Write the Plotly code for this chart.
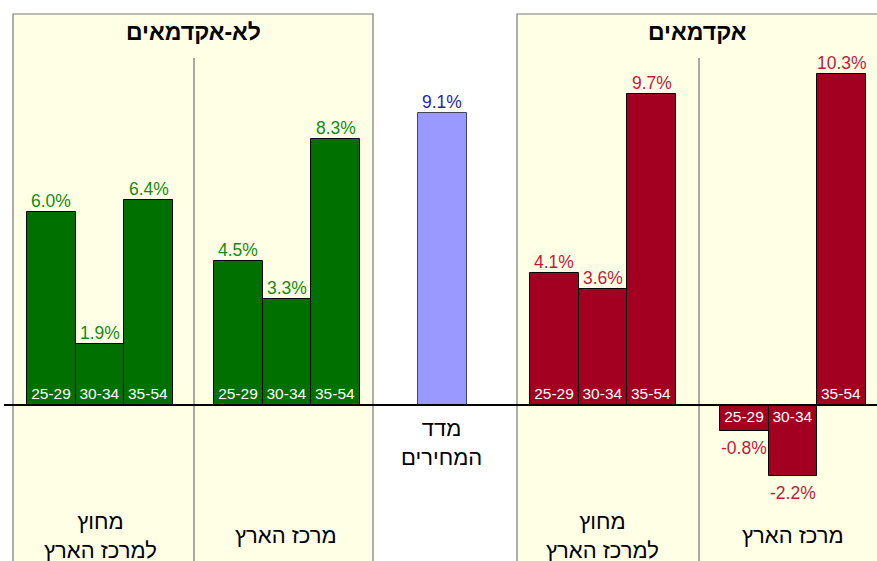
import plotly.graph_objects as go

# ---- data ----
age_groups = ["25-29", "30-34", "35-54"]
nonacad_periphery = [6.0, 1.9, 6.4]
nonacad_center = [4.5, 3.3, 8.3]
price_index = [9.1]
acad_periphery = [4.1, 3.6, 9.7]
acad_center = [-0.8, -2.2, 10.3]

panel_titles = ["לא-אקדמאים", "אקדמאים"]
region_labels = ["מחוץ<br>למרכז הארץ", "מרכז הארץ"]
price_label = "מדד<br>המחירים"

# ---- layout constants (pixel-like x units) ----
W, H = 877, 561
BAR_W = 48.7
ZERO_PX = 405
PX_PER_UNIT = 32.1
GREEN, RED, BLUE = "#007000", "#A30021", "#9999FF"
GREEN_T, RED_T, BLUE_T = "#138A13", "#C01A3A", "#1F1FA8"
FONT = "Arial, Liberation Sans, sans-serif"

group_starts = [27, 214, 530, 720]
groups = [
    (nonacad_periphery, GREEN, GREEN_T, group_starts[0]),
    (nonacad_center, GREEN, GREEN_T, group_starts[1]),
    (acad_periphery, RED, RED_T, group_starts[2]),
    (acad_center, RED, RED_T, group_starts[3]),
]

y_top = ZERO_PX / PX_PER_UNIT
y_bot = -(H - ZERO_PX) / PX_PER_UNIT

fig = go.Figure()
annotations = []


def val_label(x, v, color):
    annotations.append(dict(
        x=x, y=v, xref="x", yref="y", text=f"{v:.1f}%", showarrow=False,
        yanchor="bottom" if v >= 0 else "top", yshift=-1 if v >= 0 else -5,
        font=dict(family=FONT, size=17.5, color=color)))


for vals, col, tcol, start in groups:
    xs = [start + BAR_W * (i + 0.5) for i in range(len(vals))]
    fig.add_trace(go.Bar(
        x=xs, y=vals, width=BAR_W, marker=dict(color=col, line=dict(color="black", width=1)),
        text=age_groups, textposition="inside", insidetextanchor="start", textangle=0,
        insidetextfont=dict(family=FONT, size=15.5, color="white"),
        hoverinfo="skip", showlegend=False, cliponaxis=False))
    for x, v in zip(xs, vals):
        val_label(x, v, tcol)

px = 418 + BAR_W / 2
fig.add_trace(go.Bar(
    x=[px], y=price_index, width=BAR_W,
    marker=dict(color=BLUE, line=dict(color="#444466", width=1)),
    hoverinfo="skip", showlegend=False))
val_label(px, price_index[0], BLUE_T)

# panels
shapes = []
for x0, x1 in [(13, 373), (517, 880)]:
    shapes.append(dict(type="rect", xref="x", yref="paper", x0=x0, x1=x1, y0=-0.1, y1=1 - 14 / H,
                       fillcolor="#FFFFE6", line=dict(color="#7A7A7A", width=1.2), layer="below"))
for xd in [194, 699]:
    shapes.append(dict(type="line", xref="x", yref="paper", x0=xd, x1=xd, y0=-0.1, y1=1 - 58 / H,
                       line=dict(color="#6E6E6E", width=1.2), layer="below"))
shapes.append(dict(type="line", xref="paper", yref="y", x0=4 / W, x1=1, y0=0, y1=0,
                   line=dict(color="black", width=2)))

for xc, t in [(193, panel_titles[0]), (697, panel_titles[1])]:
    annotations.append(dict(x=xc, y=1 - 32 / H, xref="x", yref="paper", text=f"<b>{t}</b>",
                            showarrow=False, yanchor="middle",
                            font=dict(family=FONT, size=23, color="black")))

for xc, t, yc in [(100, region_labels[0], 536), (286, region_labels[1], 535),
                  (602, region_labels[0], 536), (793, region_labels[1], 535),
                  (441, price_label, 443)]:
    annotations.append(dict(x=xc, y=1 - yc / H, xref="x", yref="paper", text=t,
                            showarrow=False, yanchor="middle",
                            font=dict(family=FONT, size=22, color="black")))

fig.update_layout(
    width=W, height=H, margin=dict(l=0, r=0, t=0, b=0),
    paper_bgcolor="white", plot_bgcolor="white",
    xaxis=dict(range=[0, W], visible=False, fixedrange=True),
    yaxis=dict(range=[y_bot, y_top], visible=False, fixedrange=True),
    shapes=shapes, annotations=annotations, bargap=0,
    uniformtext=dict(minsize=15, mode="show"),
)

fig.write_html("out.html", config={"displayModeBar": False},
               post_script="document.body.style.margin='0px';")
